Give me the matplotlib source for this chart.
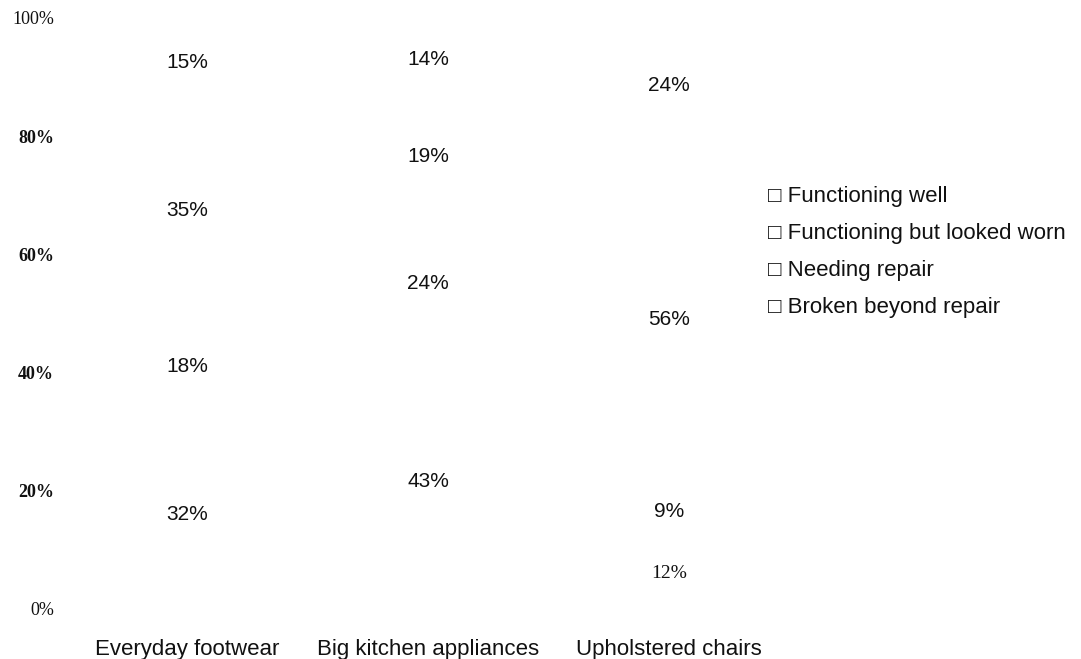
import matplotlib
matplotlib.use("Agg")
import matplotlib.pyplot as plt
import numpy as np

categories = ["Everyday footwear", "Big kitchen appliances", "Upholstered chairs"]
series_names = ["Broken beyond repair", "Needing repair",
                "Functioning but looked worn", "Functioning well"]
broken = [32, 43, 12]
needing = [18, 24, 9]
worn = [35, 19, 56]
well = [15, 14, 24]
yticks = [0, 20, 40, 60, 80, 100]
ytick_labels = ["0%", "20%", "40%", "60%", "80%", "100%"]

sans = ["Liberation Sans", "DejaVu Sans"]
serif = ["Liberation Serif", "DejaVu Serif"]

fig = plt.figure(figsize=(10.81, 6.59), dpi=100)
ax = fig.add_axes([0.0615, 0.0759, 0.669, 0.8968])

x = np.arange(len(categories))
bottom = np.zeros(len(categories))
containers = []
for name, vals in zip(series_names, [broken, needing, worn, well]):
    c = ax.bar(x, vals, width=0.5, bottom=bottom, color="white",
               edgecolor="none", label=name)
    texts = ax.bar_label(c, labels=[f"{v}%" for v in vals], label_type="center",
                         fontsize=15, family=sans, color="#111111")
    containers.append((c, texts))
    bottom += np.array(vals)

# the small 12% label in chairs is drawn in a serif face in the original
containers[0][1][2].set_fontfamily(serif)
containers[0][1][2].set_fontsize(14)

ax.set_xlim(-0.5, len(categories) - 0.5)
ax.set_ylim(0, 100)
ax.set_xticks(x)
ax.set_xticklabels(categories, fontsize=16, family=sans, color="#111111")
ax.set_yticks(yticks)
ax.set_yticklabels(ytick_labels, family=serif, fontsize=13, color="#111111")
for lbl, v in zip(ax.get_yticklabels(), yticks):
    if v not in (0, 100):
        lbl.set_fontweight("bold")
ax.tick_params(axis="both", length=0)
ax.tick_params(axis="y", pad=9)
ax.tick_params(axis="x", pad=21.5)
for s in ax.spines.values():
    s.set_visible(False)

handles = [c for c, _ in containers][::-1]
labels = ["\u25a1 " + n for n in series_names][::-1]
leg = fig.legend(handles, labels, loc="upper left",
                 bbox_to_anchor=(757 / 1081, 1 - 175 / 659),
                 frameon=False, handlelength=0, handletextpad=0,
                 labelspacing=0.72, borderpad=0,
                 prop={"family": sans, "size": 16})
for t in leg.get_texts():
    t.set_color("#111111")

fig.savefig("out.png", dpi=100, facecolor="white")
